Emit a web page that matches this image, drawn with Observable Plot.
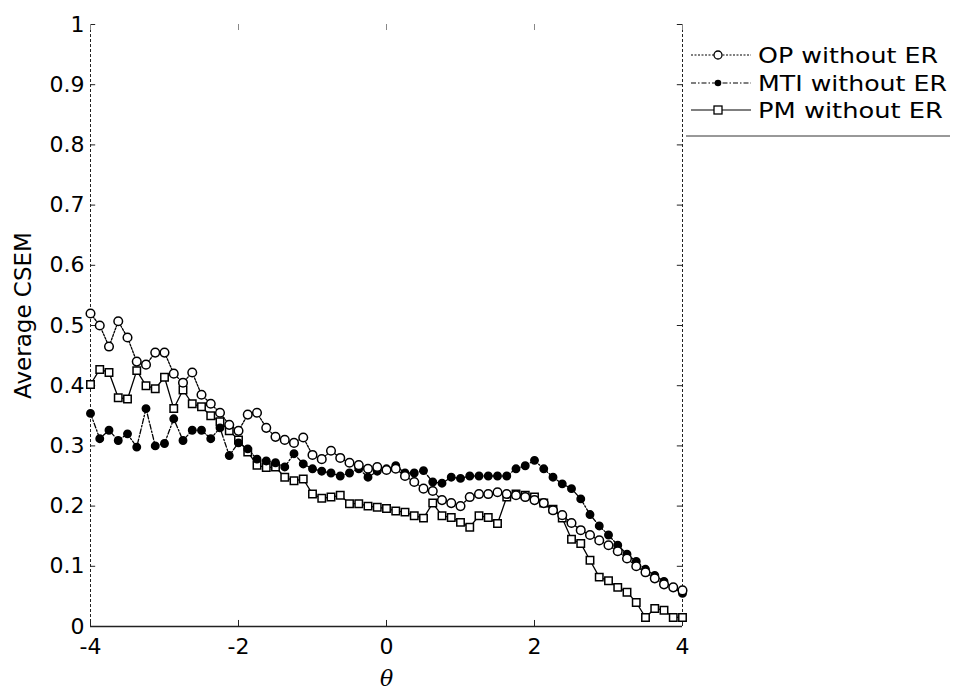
<!DOCTYPE html>
<html><head><meta charset="utf-8">
<script src="https://cdn.jsdelivr.net/npm/d3@7"></script>
<script src="https://cdn.jsdelivr.net/npm/@observablehq/plot@0.6"></script>
<style>body{margin:0;background:#fff} #chart{width:953px;height:691px}</style>
</head><body><div id="chart"></div>
<script>
const theta = [-4,-3.875,-3.75,-3.625,-3.5,-3.375,-3.25,-3.125,
 -3,-2.875,-2.75,-2.625,-2.5,-2.375,-2.25,-2.125,
 -2,-1.875,-1.75,-1.625,-1.5,-1.375,-1.25,-1.125,
 -1,-0.875,-0.75,-0.625,-0.5,-0.375,-0.25,-0.125,
 0,0.125,0.25,0.375,0.5,0.625,0.75,0.875,
 1,1.125,1.25,1.375,1.5,1.625,1.75,1.875,
 2,2.125,2.25,2.375,2.5,2.625,2.75,2.875,
 3,3.125,3.25,3.375,3.5,3.625,3.75,3.875,
 4];
const op = [0.520,0.500,0.465,0.507,0.480,0.440,0.435,0.455,
 0.455,0.420,0.405,0.422,0.385,0.370,0.355,0.335,
 0.325,0.352,0.355,0.330,0.315,0.310,0.305,0.314,
 0.285,0.278,0.292,0.280,0.272,0.268,0.262,0.265,
 0.260,0.262,0.250,0.240,0.229,0.225,0.210,0.205,
 0.200,0.215,0.220,0.220,0.223,0.220,0.218,0.215,
 0.210,0.205,0.193,0.185,0.172,0.160,0.152,0.143,
 0.135,0.125,0.113,0.100,0.090,0.080,0.070,0.065,
 0.060];
const mti = [0.354,0.312,0.326,0.309,0.320,0.298,0.362,0.300,
 0.304,0.345,0.309,0.326,0.326,0.312,0.330,0.284,
 0.305,0.295,0.278,0.275,0.272,0.265,0.287,0.270,
 0.262,0.258,0.255,0.250,0.255,0.262,0.248,0.258,
 0.262,0.267,0.255,0.255,0.259,0.240,0.238,0.248,
 0.246,0.250,0.250,0.250,0.250,0.250,0.262,0.267,
 0.276,0.262,0.248,0.237,0.229,0.212,0.186,0.167,
 0.152,0.135,0.120,0.108,0.095,0.085,0.075,0.065,
 0.055];
const pm = [0.402,0.427,0.422,0.380,0.378,0.425,0.400,0.395,
 0.414,0.362,0.393,0.370,0.365,0.350,0.340,0.325,
 0.310,0.290,0.268,0.264,0.265,0.248,0.242,0.245,
 0.220,0.213,0.215,0.218,0.204,0.204,0.200,0.198,
 0.196,0.192,0.190,0.184,0.180,0.205,0.184,0.181,
 0.173,0.165,0.184,0.181,0.171,0.215,0.220,0.218,
 0.215,0.205,0.195,0.180,0.145,0.138,0.110,0.082,
 0.076,0.065,0.057,0.040,0.015,0.030,0.027,0.015,
 0.015];
const seriesNames = ["OP without ER","MTI without ER","PM without ER"];
const xTicks = [-4,-2,0,2,4];
const xTickLabels = ["-4","-2","0","2","4"];
const yTicks = [0,0.1,0.2,0.3,0.4,0.5,0.6,0.7,0.8,0.9,1];
const yTickLabels = ["0","0.1","0.2","0.3","0.4","0.5","0.6","0.7","0.8","0.9","1"];
const xLabel = "θ";
const yLabel = "Average CSEM";

const mk = arr => theta.map((t,i)=>({theta:t, v:arr[i]}));
const opRows = mk(op), mtiRows = mk(mti), pmRows = mk(pm);

const dashOP = "2,1.5", dashMTI = "5,2,1.5,2", dashPM = null;
const font = "'DejaVu Sans', sans-serif";

const plot = Plot.plot({
  width: 953, height: 691,
  marginLeft: 90, marginRight: 271, marginTop: 24, marginBottom: 65,
  style: {fontFamily: font, fontSize: "22px", background: "white", color: "black", overflow: "visible"},
  x: {domain: [-4, 4]},
  y: {domain: [0, 1]},
  marks: [
    Plot.axisX({ticks: xTicks, tickSize: 0, tickPadding: 12, tickFormat: d => xTickLabels[xTicks.indexOf(d)], label: null, fontSize: 22}),
    Plot.axisY({ticks: yTicks, tickSize: 0, tickPadding: 6, tickFormat: d => yTickLabels[yTicks.indexOf(d)], label: null, fontSize: 22}),
    Plot.ruleX([-4], {stroke: "#222", strokeDasharray: "3,2"}),
    Plot.ruleX([4], {stroke: "#222", strokeDasharray: "3,2"}),
    Plot.ruleY([0], {stroke: "#222", strokeWidth: 1.3}),
    Plot.ruleY(yTicks, {y: d => d, x1: -4, x2: -3.93, stroke: "#222"}),
    Plot.ruleY(yTicks, {y: d => d, x1: 3.93, x2: 4, stroke: "#222"}),
    Plot.ruleX(xTicks, {x: d => d, y1: 0, y2: 0.01, stroke: "#222"}),
    Plot.ruleX(xTicks, {x: d => d, y1: 0.99, y2: 1, stroke: "#888"}),
    Plot.line(pmRows, {x: "theta", y: "v", stroke: "black", strokeWidth: 1.3}),
    Plot.line(mtiRows, {x: "theta", y: "v", stroke: "black", strokeWidth: 1.3, strokeDasharray: dashMTI}),
    Plot.line(opRows, {x: "theta", y: "v", stroke: "black", strokeWidth: 1.3, strokeDasharray: dashOP}),
    Plot.dot(pmRows, {x: "theta", y: "v", symbol: "square", r: 4.2, fill: "white", stroke: "black", strokeWidth: 1.5}),
    Plot.dot(mtiRows, {x: "theta", y: "v", r: 3.7, fill: "black", stroke: "black"}),
    Plot.dot(opRows, {x: "theta", y: "v", r: 4.3, fill: "white", stroke: "black", strokeWidth: 1.5}),
    Plot.text([yLabel], {frameAnchor: "left", textAnchor: "middle", lineAnchor: "middle", rotate: -90, dx: -67, dy: -10, fontSize: 23}),
    Plot.text([xLabel], {frameAnchor: "bottom", textAnchor: "middle", lineAnchor: "middle", dy: 52, fontSize: 22, fontStyle: "italic", fontFamily: "'DejaVu Serif', serif"})
  ]
});

// Legend drawn into the SVG, to the right of the axes
const svg = d3.select(plot);
const lg = svg.append("g").attr("font-family", font).attr("font-size", 21).attr("text-anchor", "start");
const legendRowsY = [55, 83, 110];
const legendTextWidths = [180, 189, 185];
const dashes = [dashOP, dashMTI, dashPM];
seriesNames.forEach((name, i) => {
  const y = legendRowsY[i];
  const ln = lg.append("line").attr("x1", 691).attr("x2", 751).attr("y1", y).attr("y2", y)
    .attr("stroke", "black").attr("stroke-width", 1.2);
  if (dashes[i]) ln.attr("stroke-dasharray", dashes[i]);
  if (i === 0) lg.append("circle").attr("cx", 718).attr("cy", y).attr("r", 4).attr("fill", "white").attr("stroke", "black").attr("stroke-width", 1.3);
  if (i === 1) lg.append("circle").attr("cx", 718).attr("cy", y).attr("r", 3.3).attr("fill", "black");
  if (i === 2) lg.append("rect").attr("x", 714).attr("y", y - 4).attr("width", 8).attr("height", 8).attr("fill", "white").attr("stroke", "black").attr("stroke-width", 1.3);
  lg.append("text").attr("x", 758).attr("y", y).attr("dy", "0.36em")
    .attr("textLength", legendTextWidths[i]).attr("lengthAdjust", "spacingAndGlyphs").text(name);
});
lg.append("line").attr("x1", 686).attr("x2", 950).attr("y1", 136).attr("y2", 136).attr("stroke", "#333").attr("stroke-width", 1);

document.getElementById("chart").appendChild(plot);
</script>
</body></html>
